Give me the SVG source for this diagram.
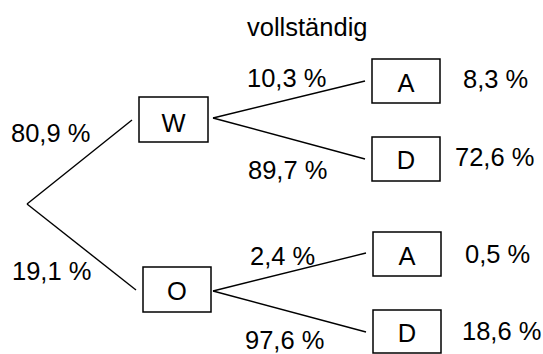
<svg xmlns="http://www.w3.org/2000/svg" width="543" height="354" viewBox="0 0 543 354">
<style>
text{font-family:"Liberation Sans",Arial,sans-serif;font-size:25.5px;fill:#000}
.box{fill:#fff;stroke:#000;stroke-width:1.5}
.c{text-anchor:middle}
#connectors line{stroke:#000;stroke-width:1.4;fill:none}
</style>
<rect width="543" height="354" fill="#fff"/>
<g id="connectors">
<line x1="27" y1="204" x2="132" y2="120"/>
<line x1="27" y1="204" x2="136" y2="290"/>
<line x1="213" y1="118" x2="365" y2="81"/>
<line x1="213" y1="118" x2="365" y2="159"/>
<line x1="213" y1="291" x2="366" y2="253"/>
<line x1="213" y1="291" x2="366" y2="332"/>
</g>
<g id="labels">
<text x="247" y="36">vollständig</text>
<text x="11" y="142">80,9 %</text>
<text x="12" y="280">19,1 %</text>
<text x="247" y="87">10,3 %</text>
<text x="248" y="179">89,7 %</text>
<text x="250" y="265">2,4 %</text>
<text x="245" y="349">97,6 %</text>
<text x="463" y="88">8,3 %</text>
<text x="455" y="166">72,6 %</text>
<text x="465" y="263">0,5 %</text>
<text x="462" y="340">18,6 %</text>
</g>
<g id="W"><rect class="box" x="139" y="97" width="69" height="45"/><text class="c" x="173.5" y="132">W</text></g>
<g id="O"><rect class="box" x="143" y="267" width="68" height="45"/><text class="c" x="177" y="300">O</text></g>
<g id="WA"><rect class="box" x="372" y="59" width="68" height="44"/><text class="c" x="406" y="92">A</text></g>
<g id="WD"><rect class="box" x="372" y="137" width="68" height="44"/><text class="c" x="406" y="169">D</text></g>
<g id="OA"><rect class="box" x="373" y="232" width="68" height="44"/><text class="c" x="407" y="265">A</text></g>
<g id="OD"><rect class="box" x="373" y="310" width="68" height="43"/><text class="c" x="407" y="342">D</text></g>
</svg>
